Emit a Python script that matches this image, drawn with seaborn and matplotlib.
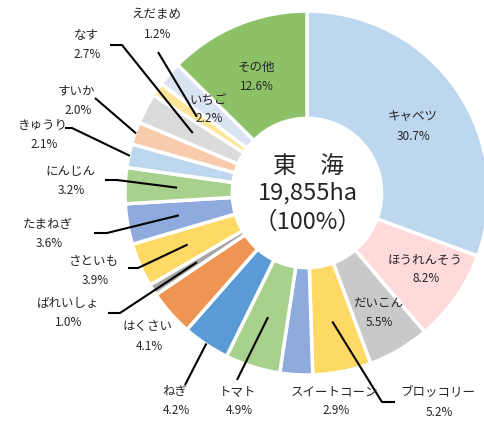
import matplotlib
matplotlib.use("Agg")
import numpy as np
import matplotlib.pyplot as plt
import seaborn as sns

# Planted area shares by crop, clockwise from 12 o'clock
crops = ["キャベツ", "ほうれんそう", "だいこん", "ブロッコリー", "スイートコーン", "トマト",
         "ねぎ", "はくさい", "ばれいしょ", "さといも", "たまねぎ", "にんじん",
         "きゅうり", "すいか", "なす", "えだまめ", "いちご", "その他"]
shares = [30.7, 8.2, 5.5, 5.2, 2.9, 4.9, 4.2, 4.1, 1.0, 3.9, 3.6, 3.2,
          2.1, 2.0, 2.7, 1.2, 2.2, 12.6]
region = "東　海"
total_area = "19,855ha"
total_share = "（100%）"

sns.set_theme(style="white")
plt.rcParams["font.family"] = ["Noto Sans CJK JP", "DejaVu Sans"]

colors = ["#BDD7EE", "#FFDADA", "#C9C9C9", "#FFD966", "#8FAADC", "#A9D18E",
          "#5B9BD5", "#EE9553", "#A5A5A5", "#FFD966", "#8FAADC", "#A9D18E",
          "#BDD7EE", "#F8CBAD", "#DBDBDB", "#FFE699", "#DAE3F3", "#8CC168"]

W, H = 485, 421
fig = plt.figure(figsize=(W / 100, H / 100), dpi=100)
ax = fig.add_axes([0, 0, 1, 1])

cx, cy, R = 307, H - 193, 182
wedges, _ = ax.pie(shares, colors=colors, startangle=90, counterclock=False,
                   radius=R, center=(cx, cy),
                   wedgeprops=dict(width=R * 0.59, edgecolor="white", linewidth=2.5))
ax.set_xlim(0, W)
ax.set_ylim(0, H)
ax.set_aspect("equal")
ax.axis("off")

# label layout in pixel coordinates (top-left origin): name position,
# leader anchor radius on the wedge, and leader bend points
layout = {
    "キャベツ":     ((413, 117), None, None),
    "ほうれんそう": ((425, 260), None, None),
    "だいこん":     ((378, 303), None, None),
    "ブロッコリー": ((438, 393), 131, [(382, 402), (395, 402)]),
    "スイートコーン": ((335, 392), None, None),
    "トマト":       ((238, 392), 130, [(237, 380)]),
    "ねぎ":         ((175, 392), 181, [(185, 385)]),
    "はくさい":     ((148, 327), None, None),
    "ばれいしょ":   ((68, 303), 130, [(120, 313), (108, 313)]),
    "さといも":     ((94, 262), 130, [(138, 268), (128, 268)]),
    "たまねぎ":     ((48, 225), 130, [(107, 233), (94, 233)]),
    "にんじん":     ((70, 172), 130, [(117, 180), (105, 180)]),
    "きゅうり":     ((43, 125), 181, [(72, 128), (65, 128)]),
    "すいか":       ((77, 91), 181, [(95, 98)]),
    "なす":         ((86, 35), 129, [(122, 45), (110, 45)]),
    "えだまめ":     ((157, 15), 134, [(158, 52)]),
    "いちご":       ((208, 100), None, None),
    "その他":       ((256, 67), None, None),
}

txt_color = "#262626"
for w, name, val in zip(wedges, crops, shares):
    (lx, ly), r_anchor, bends = layout[name]
    ax.text(lx, H - ly, name, ha="center", va="center", fontsize=9, color=txt_color)
    ax.text(lx + 1, H - ly - 19, f"{val:.1f}%", ha="center", va="center",
            fontsize=8.5, color=txt_color)
    if r_anchor is not None:
        mid = np.deg2rad((w.theta1 + w.theta2) / 2)
        xs = [cx + r_anchor * np.cos(mid)] + [p[0] for p in bends]
        ys = [cy + r_anchor * np.sin(mid)] + [H - p[1] for p in bends]
        ax.plot(xs, ys, color="black", lw=1.5, solid_capstyle="butt")

ax.text(cx + 1, H - 167, region, ha="center", va="center", fontsize=17, color=txt_color)
ax.text(cx + 1, H - 193, total_area, ha="center", va="center", fontsize=17, color=txt_color)
ax.text(cx + 1, H - 222, total_share, ha="center", va="center", fontsize=17, color=txt_color)

fig.savefig("out.png", dpi=100, facecolor="white")
